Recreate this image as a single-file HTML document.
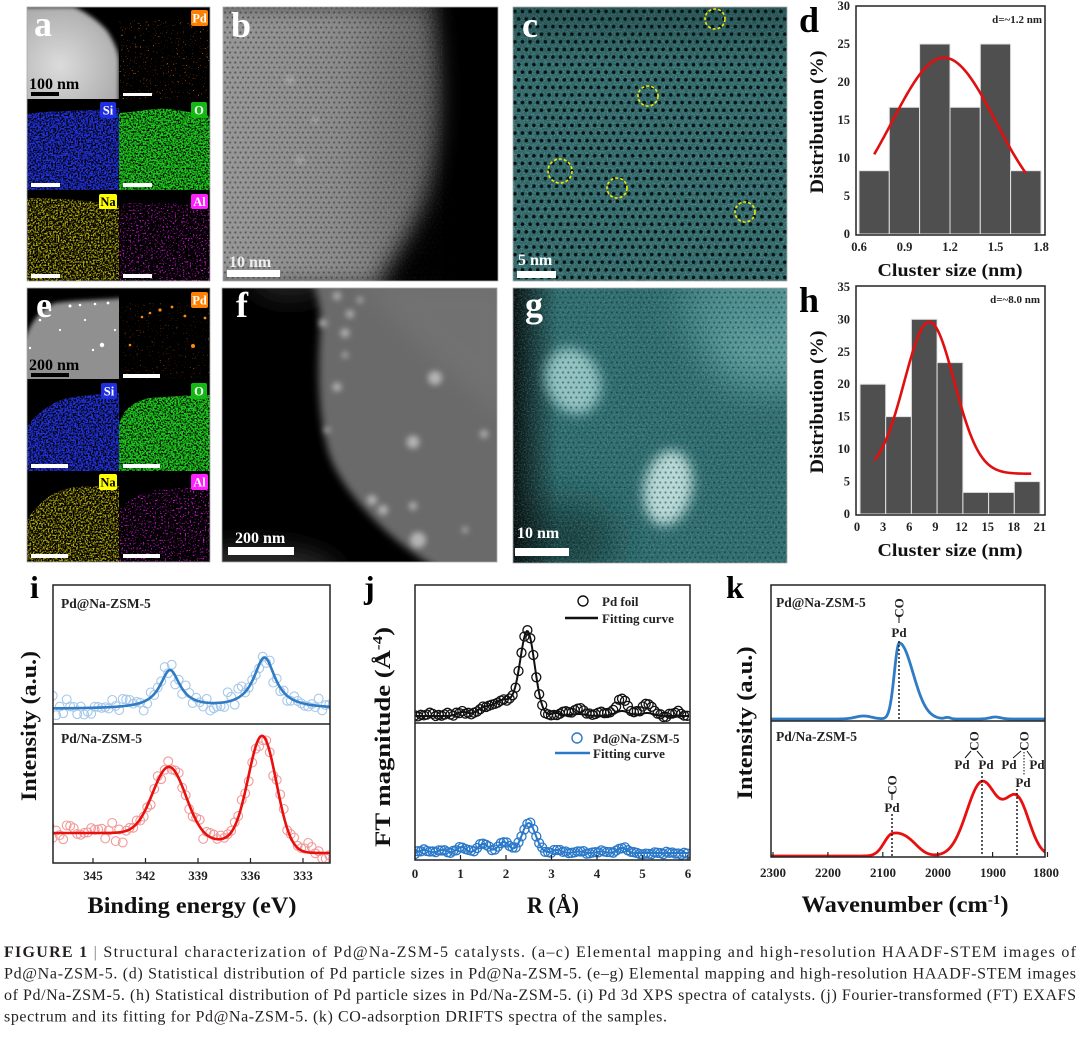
<!DOCTYPE html>
<html><head><meta charset="utf-8">
<style>
html,body{margin:0;padding:0;background:#fff;}
body{width:1080px;height:1039px;position:relative;overflow:hidden;}
svg{position:absolute;left:0;top:0;}
</style></head>
<body>
<svg id="fig" width="1080" height="1039" viewBox="0 0 1080 1039" xmlns="http://www.w3.org/2000/svg" font-family="'Liberation Serif', serif">
<defs>
  <filter id="nSi" x="0" y="0" width="1" height="1" color-interpolation-filters="sRGB"><feTurbulence type="fractalNoise" baseFrequency="0.6" numOctaves="2" seed="4"/><feColorMatrix type="matrix" values="0 0 0 0 0.14  0 0 0 0 0.2  0 0 0 0 0.88  4 0 0 0 -1.4"/><feComposite in2="SourceGraphic" operator="in"/></filter>
  <filter id="nO" x="0" y="0" width="1" height="1" color-interpolation-filters="sRGB"><feTurbulence type="fractalNoise" baseFrequency="0.6" numOctaves="2" seed="7"/><feColorMatrix type="matrix" values="0 0 0 0 0.12  0 0 0 0 0.8  0 0 0 0 0.12  4 0 0 0 -1.3"/><feComposite in2="SourceGraphic" operator="in"/></filter>
  <filter id="nNa" x="0" y="0" width="1" height="1" color-interpolation-filters="sRGB"><feTurbulence type="fractalNoise" baseFrequency="0.6" numOctaves="2" seed="9"/><feColorMatrix type="matrix" values="0 0 0 0 0.72  0 0 0 0 0.68  0 0 0 0 0.05  4.5 0 0 0 -2.0"/><feComposite in2="SourceGraphic" operator="in"/></filter>
  <filter id="nAl" x="0" y="0" width="1" height="1" color-interpolation-filters="sRGB"><feTurbulence type="fractalNoise" baseFrequency="0.6" numOctaves="2" seed="11"/><feColorMatrix type="matrix" values="0 0 0 0 0.85  0 0 0 0 0.1  0 0 0 0 0.85  6 0 0 0 -3.5"/><feComposite in2="SourceGraphic" operator="in"/></filter>
  <filter id="nPd" x="0" y="0" width="1" height="1" color-interpolation-filters="sRGB"><feTurbulence type="fractalNoise" baseFrequency="0.6" numOctaves="2" seed="13"/><feColorMatrix type="matrix" values="0 0 0 0 0.95  0 0 0 0 0.45  0 0 0 0 0.05  8 0 0 0 -5.5"/><feComposite in2="SourceGraphic" operator="in"/></filter>
  <filter id="nGrain" x="0" y="0" width="1" height="1" color-interpolation-filters="sRGB"><feTurbulence type="fractalNoise" baseFrequency="0.7" numOctaves="2" seed="5"/><feColorMatrix type="matrix" values="0 0 0 0 0.6  0 0 0 0 0.85  0 0 0 0 0.85  2 0 0 0 -0.85"/><feComposite in2="SourceGraphic" operator="in"/></filter>
  <filter id="nGray" x="0" y="0" width="1" height="1" color-interpolation-filters="sRGB"><feTurbulence type="fractalNoise" baseFrequency="0.7" numOctaves="2" seed="6"/><feColorMatrix type="matrix" values="0 0 0 0 0.8  0 0 0 0 0.8  0 0 0 0 0.8  2 0 0 0 -0.9"/><feComposite in2="SourceGraphic" operator="in"/></filter>
  <filter id="bl2"><feGaussianBlur stdDeviation="2"/></filter>
  <filter id="bl3"><feGaussianBlur stdDeviation="3"/></filter>
  <filter id="bl4"><feGaussianBlur stdDeviation="4"/></filter>
  <filter id="bl6" x="-30%" y="-30%" width="160%" height="160%"><feGaussianBlur stdDeviation="6"/></filter>
  <filter id="bl12" x="-30%" y="-30%" width="160%" height="160%"><feGaussianBlur stdDeviation="12"/></filter>
  <filter id="bl20" x="-50%" y="-50%" width="200%" height="200%"><feGaussianBlur stdDeviation="20"/></filter>
  <pattern id="latB" width="5.2" height="10" patternUnits="userSpaceOnUse"><circle cx="1.3" cy="2.5" r="1.15" fill="#1e1e1e" opacity="0.5"/><circle cx="3.9" cy="7.5" r="1.15" fill="#1e1e1e" opacity="0.5"/></pattern>
  <pattern id="latC" width="7.6" height="15.2" patternUnits="userSpaceOnUse"><circle cx="1.9" cy="3.8" r="1.8" fill="#051313"/><circle cx="5.7" cy="11.4" r="1.8" fill="#051313"/></pattern>
  <pattern id="latG" width="5.4" height="10" patternUnits="userSpaceOnUse"><circle cx="1.35" cy="2.5" r="1.1" fill="#06201f" opacity="0.45"/><circle cx="4.05" cy="7.5" r="1.1" fill="#06201f" opacity="0.45"/></pattern>
  <radialGradient id="gA" cx="0.4" cy="0.6" r="0.7"><stop offset="0" stop-color="#dcdcdc"/><stop offset="1" stop-color="#a8a8a8"/></radialGradient>
  <linearGradient id="gB" x1="0" y1="0" x2="1" y2="0"><stop offset="0" stop-color="#989898"/><stop offset="0.6" stop-color="#888"/><stop offset="1" stop-color="#5a5a5a"/></linearGradient>
  <linearGradient id="gGl" x1="0" y1="0" x2="1" y2="0"><stop offset="0" stop-color="#000" stop-opacity="0.9"/><stop offset="1" stop-color="#000" stop-opacity="0"/></linearGradient>
  <linearGradient id="gCt" x1="0" y1="0" x2="0" y2="1"><stop offset="0" stop-color="#0a2020" stop-opacity="0.3"/><stop offset="1" stop-color="#0a2020" stop-opacity="0"/></linearGradient>
  <clipPath id="cpAh"><rect x="27" y="7" width="92" height="92"/></clipPath>
  <clipPath id="cpEh"><rect x="27" y="288" width="92" height="91"/></clipPath>
  <clipPath id="cpB"><rect x="223" y="7" width="275" height="274"/></clipPath>
  <clipPath id="cpC"><rect x="513" y="7" width="274" height="274"/></clipPath>
  <clipPath id="cpF"><rect x="222" y="288" width="275" height="274"/></clipPath>
  <clipPath id="cpG"><rect x="513" y="288" width="274" height="275"/></clipPath>
  <clipPath id="cpD"><rect x="856" y="6" width="189" height="229"/></clipPath>
  <clipPath id="cpH"><rect x="856" y="286" width="189" height="229"/></clipPath>
  <clipPath id="cpI"><rect x="53" y="585" width="277" height="278"/></clipPath>
  <clipPath id="cpJ"><rect x="415" y="585" width="275" height="275"/></clipPath>
  <clipPath id="cpK"><rect x="771" y="585" width="274" height="272"/></clipPath>
</defs>

<!-- ============ PANEL a ============ -->
<rect x="27" y="7" width="183" height="274" fill="#000"/>
<g clip-path="url(#cpAh)">
  <path d="M20,7 L74,7 C86,12 100,22 108,32 C114,42 119,52 119,62 L119,105 L20,105Z" fill="url(#gA)" filter="url(#bl2)"/>
</g>
<rect x="119" y="20" width="91" height="79" fill="#fff" filter="url(#nPd)"/>
<path d="M27,114 C50,110 80,112 119,108 L119,190 L27,190Z" fill="#fff" filter="url(#nSi)"/>
<path d="M119,113 C140,112 160,106 175,110 C190,112 200,114 210,116 L210,190 L119,190Z" fill="#fff" filter="url(#nO)"/>
<path d="M27,198 C60,198 90,200 119,206 L119,281 L27,281Z" fill="#fff" filter="url(#nNa)"/>
<path d="M119,203 L210,203 L210,281 L119,281Z" fill="#fff" filter="url(#nAl)"/>
<text x="34" y="36" font-size="36" font-weight="bold" fill="#fff">a</text>
<text x="29" y="89" font-size="16" font-weight="bold" fill="#000">100 nm</text>
<rect x="31" y="92" width="28" height="4" fill="#000"/>
<rect x="123" y="93" width="29" height="3" fill="#fff"/>
<rect x="31" y="183" width="29" height="4" fill="#fff"/>
<rect x="123" y="183" width="29" height="4" fill="#fff"/>
<rect x="31" y="274" width="29" height="4" fill="#fff"/>
<rect x="123" y="274" width="29" height="4" fill="#fff"/>
<g font-size="12.5" font-weight="bold" text-anchor="middle">
  <rect x="191" y="10" width="17" height="16" rx="2" fill="#ff8000"/><text x="199.5" y="22.5" fill="#fff">Pd</text>
  <rect x="100" y="102" width="16" height="16" rx="2" fill="#1f2fe0"/><text x="108" y="114.5" fill="#fff">Si</text>
  <rect x="191" y="102" width="16" height="16" rx="2" fill="#14b814"/><text x="199" y="114.5" fill="#fff">O</text>
  <rect x="99" y="194" width="18" height="15" rx="2" fill="#ffff00"/><text x="108" y="206" fill="#000">Na</text>
  <rect x="191" y="194" width="17" height="15" rx="2" fill="#ff20ff"/><text x="199.5" y="206" fill="#fff">Al</text>
</g>
<rect x="27" y="7" width="183" height="274" fill="none" stroke="#aaa" stroke-width="0.8"/>

<!-- ============ PANEL b ============ -->
<rect x="223" y="7" width="275" height="274" fill="#000"/>
<g clip-path="url(#cpB)">
  <path d="M200,0 L435,0 C448,80 445,150 428,200 C412,240 388,270 378,290 L200,290Z" fill="url(#gB)" filter="url(#bl12)"/>
  <rect x="223" y="7" width="230" height="274" fill="url(#latB)"/>
  <rect x="223" y="7" width="220" height="274" fill="#fff" filter="url(#nGray)" opacity="0.25"/>
  <path d="M440,0 C452,80 450,150 433,205 C417,245 395,272 385,290 L510,290 L510,0Z" fill="#000" filter="url(#bl12)" opacity="0.85"/>
  <circle cx="290" cy="80" r="5" fill="#bbb" opacity="0.4" filter="url(#bl2)"/>
  <circle cx="315" cy="120" r="4" fill="#bbb" opacity="0.35" filter="url(#bl2)"/>
  <circle cx="300" cy="160" r="5" fill="#bbb" opacity="0.35" filter="url(#bl2)"/>
</g>
<text x="231" y="37" font-size="36" font-weight="bold" fill="#fff">b</text>
<text x="229" y="267" font-size="16" font-weight="bold" fill="#eee">10 nm</text>
<rect x="227" y="270" width="53" height="7" fill="#fff"/>
<rect x="223" y="7" width="275" height="274" fill="none" stroke="#aaa" stroke-width="0.8"/>

<!-- ============ PANEL c ============ -->
<g clip-path="url(#cpC)">
  <rect x="513" y="7" width="274" height="274" fill="#2f6365"/>
  <rect x="513" y="7" width="274" height="274" fill="#fff" filter="url(#nGrain)" opacity="0.5"/>
  <rect x="513" y="7" width="274" height="60" fill="url(#gCt)"/>
  <rect x="513" y="7" width="274" height="274" fill="url(#latC)"/>
</g>
<g fill="none" stroke="#f2e600" stroke-width="1.6" stroke-dasharray="3,2">
  <circle cx="715" cy="19" r="10"/>
  <circle cx="648" cy="96" r="10"/>
  <circle cx="560" cy="171" r="12"/>
  <circle cx="617" cy="188" r="10"/>
  <circle cx="745" cy="212" r="10"/>
</g>
<text x="522" y="37" font-size="36" font-weight="bold" fill="#fff">c</text>
<text x="518" y="265" font-size="16" font-weight="bold" fill="#fff">5 nm</text>
<rect x="517" y="271" width="39" height="7" fill="#fff"/>
<rect x="513" y="7" width="274" height="274" fill="none" stroke="#aaa" stroke-width="0.8"/>

<!-- ============ PANEL d ============ -->
<g fill="#4f4f4f" stroke="#e2e2e2" stroke-width="1">
  <rect x="859" y="170.7" width="30.3" height="63.3"/>
  <rect x="889.3" y="107.3" width="30.3" height="126.7"/>
  <rect x="919.6" y="44" width="30.4" height="190"/>
  <rect x="950" y="107.3" width="30.3" height="126.7"/>
  <rect x="980.3" y="44" width="30.3" height="190"/>
  <rect x="1010.6" y="170.7" width="30.4" height="63.3"/>
</g>
<g id="dcurve" clip-path="url(#cpD)"></g>
<rect x="856" y="6" width="189" height="229" fill="none" stroke="#222" stroke-width="1.5"/>
<g font-size="12.5" font-weight="bold" fill="#222" text-anchor="end">
  <text x="850" y="238">0</text><text x="850" y="200">5</text><text x="850" y="162">10</text><text x="850" y="124">15</text><text x="850" y="86">20</text><text x="850" y="48">25</text><text x="850" y="10">30</text>
</g>
<g font-size="12.5" font-weight="bold" fill="#222" text-anchor="middle">
  <text x="859" y="251">0.6</text><text x="904.5" y="251">0.9</text><text x="950" y="251">1.2</text><text x="995.5" y="251">1.5</text><text x="1041" y="251">1.8</text>
</g>
<text x="1042" y="23" font-size="11" font-weight="bold" fill="#222" text-anchor="end">d=~1.2 nm</text>
<text x="799" y="32" font-size="36" font-weight="bold" fill="#000">d</text>
<text transform="translate(823,122) rotate(-90)" font-size="19" font-weight="bold" fill="#111" text-anchor="middle" textLength="143" lengthAdjust="spacingAndGlyphs">Distribution (%)</text>
<text x="950" y="276" font-size="18" font-weight="bold" fill="#111" text-anchor="middle" textLength="145" lengthAdjust="spacingAndGlyphs">Cluster size (nm)</text>

<!-- ============ PANEL e ============ -->
<rect x="27" y="288" width="183" height="274" fill="#000"/>
<g clip-path="url(#cpEh)">
  <path d="M22,345 C30,325 38,310 55,303 C75,300 100,300 125,298 L125,385 L22,385Z" fill="#909090" filter="url(#bl2)"/>
  <g fill="#fff">
    <circle cx="70" cy="306" r="1.5"/><circle cx="80" cy="305" r="1.3"/><circle cx="95" cy="304" r="1.3"/><circle cx="108" cy="303" r="1.4"/>
    <circle cx="50" cy="310" r="1.3"/><circle cx="40" cy="320" r="1.3"/><circle cx="102" cy="345" r="2.2"/><circle cx="93" cy="350" r="1.2"/>
    <circle cx="60" cy="330" r="1.1"/><circle cx="85" cy="320" r="1.1"/><circle cx="30" cy="348" r="1.2"/><circle cx="115" cy="330" r="1.1"/>
  </g>
</g>
<path d="M119,303 L210,303 L210,379 L119,379Z" fill="#fff" filter="url(#nPd)" opacity="0.6"/>
<g fill="#ff8a10">
  <circle cx="160" cy="310" r="1.6"/><circle cx="172" cy="307" r="1.4"/><circle cx="150" cy="313" r="1.3"/><circle cx="185" cy="316" r="1.4"/><circle cx="193" cy="346" r="2"/><circle cx="205" cy="318" r="1.4"/><circle cx="130" cy="345" r="1.3"/><circle cx="142" cy="317" r="1.3"/>
</g>
<path d="M27,427 C35,415 45,408 60,400 C80,395 100,394 119,393 L119,471 L27,471Z" fill="#fff" filter="url(#nSi)"/>
<path d="M119,425 C122,412 130,402 150,398 C175,396 195,395 210,395 L210,471 L119,471Z" fill="#fff" filter="url(#nO)"/>
<path d="M27,520 C40,500 55,490 75,487 C95,486 110,486 119,486 L119,562 L27,562Z" fill="#fff" filter="url(#nNa)"/>
<path d="M119,510 C130,498 145,490 165,489 C185,488 200,487 210,487 L210,562 L119,562Z" fill="#fff" filter="url(#nAl)"/>
<text x="36" y="317" font-size="36" font-weight="bold" fill="#fff">e</text>
<text x="29" y="370" font-size="16" font-weight="bold" fill="#000">200 nm</text>
<rect x="31" y="373" width="38" height="4" fill="#000"/>
<rect x="123" y="374" width="37" height="4" fill="#fff"/>
<rect x="31" y="464" width="37" height="4" fill="#fff"/>
<rect x="123" y="464" width="37" height="4" fill="#fff"/>
<rect x="31" y="554" width="37" height="4" fill="#fff"/>
<rect x="123" y="554" width="37" height="4" fill="#fff"/>
<g font-size="12.5" font-weight="bold" text-anchor="middle">
  <rect x="191" y="292" width="17" height="16" rx="2" fill="#ff8000"/><text x="199.5" y="304.5" fill="#fff">Pd</text>
  <rect x="101" y="383" width="16" height="16" rx="2" fill="#1f2fe0"/><text x="109" y="395.5" fill="#fff">Si</text>
  <rect x="191" y="383" width="16" height="16" rx="2" fill="#14b814"/><text x="199" y="395.5" fill="#fff">O</text>
  <rect x="99" y="474" width="18" height="16" rx="2" fill="#ffff00"/><text x="108" y="486.5" fill="#000">Na</text>
  <rect x="191" y="474" width="17" height="16" rx="2" fill="#ff20ff"/><text x="199.5" y="486.5" fill="#fff">Al</text>
</g>
<rect x="27" y="288" width="183" height="274" fill="none" stroke="#aaa" stroke-width="0.8"/>

<!-- ============ PANEL f ============ -->
<rect x="222" y="288" width="275" height="274" fill="#000"/>
<g clip-path="url(#cpF)">
  <ellipse cx="250" cy="575" rx="90" ry="30" fill="#2a2a2a" filter="url(#bl12)"/>
  <ellipse cx="290" cy="280" rx="40" ry="20" fill="#222" filter="url(#bl12)"/>
  <path d="M312,280 L510,280 L510,570 L440,570 C400,548 352,505 332,462 C316,422 318,362 320,332 C322,310 316,292 312,280Z" fill="#6a6a6a" filter="url(#bl4)"/>
  <path d="M360,280 L510,280 L510,420 C450,380 400,330 360,280Z" fill="#777" filter="url(#bl12)" opacity="0.6"/>
  <g fill="#b4b4b4" filter="url(#bl3)">
    <circle cx="435" cy="378" r="7"/><circle cx="413" cy="442" r="6.5"/><circle cx="337" cy="387" r="4.5"/><circle cx="484" cy="434" r="4"/>
    <circle cx="372" cy="500" r="5"/><circle cx="383" cy="510" r="5"/><circle cx="413" cy="506" r="4"/><circle cx="418" cy="540" r="8"/>
    <circle cx="323" cy="323" r="4"/><circle cx="345" cy="333" r="4.5"/><circle cx="337" cy="296" r="4"/><circle cx="345" cy="355" r="3"/>
    <circle cx="350" cy="314" r="4"/><circle cx="327" cy="430" r="3"/><circle cx="465" cy="530" r="3"/><circle cx="360" cy="300" r="3"/>
  </g>
</g>
<text x="236" y="317" font-size="36" font-weight="bold" fill="#fff">f</text>
<text x="235" y="543" font-size="16" font-weight="bold" fill="#fff">200 nm</text>
<rect x="228" y="547" width="66" height="8" fill="#fff"/>
<rect x="222" y="288" width="275" height="274" fill="none" stroke="#aaa" stroke-width="0.8"/>

<!-- ============ PANEL g ============ -->
<g clip-path="url(#cpG)">
  <rect x="513" y="288" width="274" height="275" fill="#2e6a6c"/>
  <ellipse cx="770" cy="330" rx="70" ry="60" fill="#5a9898" filter="url(#bl20)"/>
  <ellipse cx="740" cy="300" rx="60" ry="25" fill="#4c8a8a" filter="url(#bl20)"/>
  <ellipse cx="560" cy="540" rx="60" ry="40" fill="#123c3e" filter="url(#bl20)"/>
  <rect x="513" y="288" width="45" height="275" fill="url(#gGl)"/>
  <rect x="513" y="288" width="274" height="275" fill="#fff" filter="url(#nGrain)" opacity="0.35"/>
  <ellipse cx="573" cy="381" rx="27" ry="34" transform="rotate(-20 573 381)" fill="#92c2c2" filter="url(#bl6)"/>
  <ellipse cx="668" cy="488" rx="24" ry="38" transform="rotate(10 668 488)" fill="#b6d8d6" filter="url(#bl6)"/>
  <rect x="513" y="288" width="274" height="275" fill="url(#latG)"/>
</g>
<text x="525" y="317" font-size="36" font-weight="bold" fill="#fff">g</text>
<text x="517" y="538" font-size="16" font-weight="bold" fill="#fff">10 nm</text>
<rect x="515" y="548" width="54" height="8" fill="#fff"/>
<rect x="513" y="288" width="274" height="275" fill="none" stroke="#aaa" stroke-width="0.8"/>

<!-- ============ PANEL h ============ -->
<g fill="#4f4f4f" stroke="#e2e2e2" stroke-width="1">
  <rect x="860" y="384.2" width="25.7" height="129.8"/>
  <rect x="885.7" y="416.6" width="25.7" height="97.4"/>
  <rect x="911.4" y="319.3" width="25.7" height="194.7"/>
  <rect x="937.1" y="362.6" width="25.8" height="151.4"/>
  <rect x="962.9" y="492.4" width="25.7" height="21.6"/>
  <rect x="988.6" y="492.4" width="25.7" height="21.6"/>
  <rect x="1014.3" y="481.6" width="25.7" height="32.4"/>
</g>
<g id="hcurve" clip-path="url(#cpH)"></g>
<rect x="856" y="286" width="189" height="229" fill="none" stroke="#222" stroke-width="1.5"/>
<g font-size="12.5" font-weight="bold" fill="#222" text-anchor="end">
  <text x="850" y="518">0</text><text x="850" y="485.5">5</text><text x="850" y="453">10</text><text x="850" y="420.7">15</text><text x="850" y="388">20</text><text x="850" y="355.8">25</text><text x="850" y="323.3">30</text><text x="850" y="291">35</text>
</g>
<g font-size="12.5" font-weight="bold" fill="#222" text-anchor="middle">
  <text x="857" y="531">0</text><text x="883.1" y="531">3</text><text x="909.3" y="531">6</text><text x="935.4" y="531">9</text><text x="961.5" y="531">12</text><text x="987.7" y="531">15</text><text x="1013.8" y="531">18</text><text x="1039.9" y="531">21</text>
</g>
<text x="1040" y="303" font-size="11" font-weight="bold" fill="#222" text-anchor="end">d=~8.0 nm</text>
<text x="799" y="312" font-size="36" font-weight="bold" fill="#000">h</text>
<text transform="translate(823,402) rotate(-90)" font-size="19" font-weight="bold" fill="#111" text-anchor="middle" textLength="143" lengthAdjust="spacingAndGlyphs">Distribution (%)</text>
<text x="950" y="556" font-size="18" font-weight="bold" fill="#111" text-anchor="middle" textLength="145" lengthAdjust="spacingAndGlyphs">Cluster size (nm)</text>

<!-- ============ PANEL i ============ -->
<g id="icurve"></g>
<rect x="53" y="585" width="277" height="278" fill="none" stroke="#222" stroke-width="1.5"/>
<line x1="53" y1="724" x2="330" y2="724" stroke="#222" stroke-width="1.5"/>
<text x="30" y="598" font-size="32" font-weight="bold" fill="#000">i</text>
<text x="61" y="608" font-size="13.5" font-weight="bold" fill="#222">Pd@Na-ZSM-5</text>
<text x="61" y="743" font-size="13.5" font-weight="bold" fill="#222">Pd/Na-ZSM-5</text>
<g font-size="13" font-weight="bold" fill="#222" text-anchor="middle">
  <text x="93" y="880">345</text><text x="145.5" y="880">342</text><text x="198" y="880">339</text><text x="250.5" y="880">336</text><text x="303" y="880">333</text>
</g>
<text x="192" y="913" font-size="23" font-weight="bold" fill="#111" text-anchor="middle" textLength="209" lengthAdjust="spacingAndGlyphs">Binding energy (eV)</text>
<text transform="translate(36,726) rotate(-90)" font-size="22" font-weight="bold" fill="#111" text-anchor="middle" textLength="150" lengthAdjust="spacingAndGlyphs">Intensity (a.u.)</text>

<!-- ============ PANEL j ============ -->
<g id="jcurve"></g>
<rect x="415" y="585" width="275" height="275" fill="none" stroke="#222" stroke-width="1.5"/>
<line x1="415" y1="723" x2="690" y2="723" stroke="#222" stroke-width="1.5"/>
<text x="364" y="598" font-size="32" font-weight="bold" fill="#000">j</text>
<circle cx="583" cy="601" r="5" fill="none" stroke="#111" stroke-width="1.4"/>
<text x="602" y="606" font-size="13" font-weight="bold" fill="#222">Pd foil</text>
<line x1="565" y1="618" x2="598" y2="618" stroke="#111" stroke-width="2.5"/>
<text x="602" y="623" font-size="13" font-weight="bold" fill="#222">Fitting curve</text>
<circle cx="577" cy="738" r="5" fill="none" stroke="#2a78c8" stroke-width="1.4"/>
<text x="593" y="743" font-size="13" font-weight="bold" fill="#222">Pd@Na-ZSM-5</text>
<line x1="555" y1="753" x2="590" y2="753" stroke="#2a78c8" stroke-width="2.5"/>
<text x="593" y="758" font-size="13" font-weight="bold" fill="#222">Fitting curve</text>
<g font-size="13" font-weight="bold" fill="#222" text-anchor="middle">
  <text x="415" y="878">0</text><text x="460.5" y="878">1</text><text x="506" y="878">2</text><text x="551.5" y="878">3</text><text x="597" y="878">4</text><text x="642.5" y="878">5</text><text x="688" y="878">6</text>
</g>
<text x="553" y="913" font-size="23" font-weight="bold" fill="#111" text-anchor="middle" textLength="52" lengthAdjust="spacingAndGlyphs">R (Å)</text>
<text transform="translate(390,737) rotate(-90)" font-size="22" font-weight="bold" fill="#111" text-anchor="middle" textLength="220" lengthAdjust="spacingAndGlyphs">FT magnitude (Å<tspan font-size="14" dy="-8">-4</tspan><tspan dy="8">)</tspan></text>

<!-- ============ PANEL k ============ -->
<g id="kcurve"></g>
<rect x="771" y="585" width="274" height="272" fill="none" stroke="#222" stroke-width="1.5"/>
<line x1="771" y1="721" x2="1045" y2="721" stroke="#222" stroke-width="1.5"/>
<text x="726" y="598" font-size="32" font-weight="bold" fill="#000">k</text>
<text x="776" y="607" font-size="13.5" font-weight="bold" fill="#222">Pd@Na-ZSM-5</text>
<text x="776" y="741" font-size="13.5" font-weight="bold" fill="#222">Pd/Na-ZSM-5</text>
<g stroke="#111" stroke-width="1.4" stroke-dasharray="2,2">
  <line x1="899" y1="641" x2="899" y2="719"/>
  <line x1="892" y1="814" x2="892" y2="856"/>
  <line x1="982" y1="772" x2="982" y2="856"/>
  <line x1="1017" y1="789" x2="1017" y2="856"/>
  <line x1="1024" y1="752" x2="1024" y2="776" stroke-dasharray="1.5,1.5" stroke-width="1"/>
</g>
<g stroke="#111" stroke-width="1">
  <line x1="899" y1="617" x2="899" y2="623"/>
  <line x1="892" y1="794" x2="892" y2="800"/>
  <line x1="971" y1="751" x2="965" y2="758"/>
  <line x1="977" y1="751" x2="983" y2="758"/>
  <line x1="1021" y1="751" x2="1013" y2="758"/>
  <line x1="1027" y1="751" x2="1032" y2="758"/>
</g>
<g font-size="13" font-weight="bold" fill="#222" text-anchor="middle">
  <text transform="translate(903.5,608) rotate(-90)">CO</text>
  <text x="899" y="637">Pd</text>
  <text transform="translate(896.5,785) rotate(-90)">CO</text>
  <text x="892" y="812">Pd</text>
  <text transform="translate(978.5,741) rotate(-90)">CO</text>
  <text x="962" y="769">Pd</text><text x="986" y="769">Pd</text>
  <text transform="translate(1028.5,741) rotate(-90)">CO</text>
  <text x="1009" y="769">Pd</text><text x="1037" y="769">Pd</text>
  <text x="1023" y="787">Pd</text>
</g>
<g font-size="13" font-weight="bold" fill="#222" text-anchor="middle">
  <text x="773" y="877">2300</text><text x="828" y="877">2200</text><text x="883" y="877">2100</text><text x="938" y="877">2000</text><text x="993" y="877">1900</text><text x="1046" y="877">1800</text>
</g>
<text x="905" y="912" font-size="23" font-weight="bold" fill="#111" text-anchor="middle" textLength="207" lengthAdjust="spacingAndGlyphs">Wavenumber (cm<tspan font-size="14" dy="-8">-1</tspan><tspan dy="8">)</tspan></text>
<text transform="translate(752,723) rotate(-90)" font-size="22" font-weight="bold" fill="#111" text-anchor="middle" textLength="153" lengthAdjust="spacingAndGlyphs">Intensity (a.u.)</text>

<!-- ============ CAPTION ============ -->
<g font-size="16" fill="#231f20">
  <text x="4" y="957" textLength="1072" lengthAdjust="spacing"><tspan font-weight="bold">FIGURE 1</tspan>  <tspan fill="#777">|</tspan>  Structural characterization of Pd@Na-ZSM-5 catalysts. (a–c) Elemental mapping and high-resolution HAADF-STEM images of</text>
  <text x="4" y="978.5" textLength="1072" lengthAdjust="spacing">Pd@Na-ZSM-5. (d) Statistical distribution of Pd particle sizes in Pd@Na-ZSM-5. (e–g) Elemental mapping and high-resolution HAADF-STEM images</text>
  <text x="4" y="1000" textLength="1072" lengthAdjust="spacing">of Pd/Na-ZSM-5. (h) Statistical distribution of Pd particle sizes in Pd/Na-ZSM-5. (i) Pd 3d XPS spectra of catalysts. (j) Fourier-transformed (FT) EXAFS</text>
  <text x="4" y="1021.5" textLength="663" lengthAdjust="spacing">spectrum and its fitting for Pd@Na-ZSM-5. (k) CO-adsorption DRIFTS spectra of the samples.</text>
</g>
</svg>

<script>
(function(){
var NS='http://www.w3.org/2000/svg';
var s=12345;function R(){s=(s*16807)%2147483647;return s/2147483647;}
function N(){return (R()+R()+R()-1.5);}
function el(tag,at,parent){var e=document.createElementNS(NS,tag);for(var k in at)e.setAttribute(k,at[k]);parent.appendChild(e);return e;}
function curve(f,a,b,n){var d='';for(var i=0;i<=n;i++){var t=a+(b-a)*i/n;var p=f(t);d+=(i?'L':'M')+p[0].toFixed(2)+' '+p[1].toFixed(2);}return d;}
function G(x,c,h,sg){return h*Math.exp(-0.5*Math.pow((x-c)/sg,2));}
function AG(x,c,h,sl,sr){return x>c?G(x,c,h,sl):G(x,c,h,sr);}
function L(x,c,h,g){return h/(1+Math.pow((x-c)/g,2));}

/* d */
var gd=document.getElementById('dcurve');
el('path',{d:curve(function(v){return [859+(v-0.6)*151.7,234-(2+G(v,1.16,21.2,0.34))*7.6];},0.7,1.7,80),fill:'none',stroke:'#e01010','stroke-width':2.6},gd);
/* h */
var gh=document.getElementById('hcurve');
el('path',{d:curve(function(v){return [857+v*8.71,514-(6.2+G(v,8.3,23.4,2.87))*6.49];},2,20,90),fill:'none',stroke:'#e01010','stroke-width':2.6},gh);

/* i */
var gi=el('g',{'clip-path':'url(#cpI)'},document.getElementById('icurve'));
function Xi(E){return 93+(345-E)*17.5;}
function yi1(E){return 709-L(E,340.6,38,0.7)-L(E,335.2,51,0.75);}
function Sg(x){return 1/(1+Math.exp(-x/0.4));}
function yi2(E){return 853-12*Sg(E-335.3)-8*Sg(E-340.6)-G(E,340.6,70,0.95)-G(E,335.3,111,0.8);}
var E;
for(E=347.5;E>331.2;E-=0.2){el('circle',{cx:Xi(E).toFixed(1),cy:(yi1(E)+N()*9).toFixed(1),r:4.4,fill:'none',stroke:'#a6c8ea','stroke-width':1.1},gi);}
for(E=347.5;E>331.2;E-=0.2){el('circle',{cx:Xi(E).toFixed(1),cy:(yi2(E)+N()*9).toFixed(1),r:4.4,fill:'none',stroke:'#f29a9a','stroke-width':1.1},gi);}
el('path',{d:curve(function(E){return [Xi(E),yi1(E)];},347.5,331.2,300),fill:'none',stroke:'#2f7bc4','stroke-width':2.6},gi);
el('path',{d:curve(function(E){return [Xi(E),yi2(E)];},347.5,331.2,300),fill:'none',stroke:'#e8100f','stroke-width':2.6},gi);
var tk=document.getElementById('icurve');
[345,342,339,336,333].forEach(function(v){el('line',{x1:Xi(v),y1:863,x2:Xi(v),y2:858,stroke:'#222','stroke-width':1.2},tk);});

/* j */
var gj=el('g',{'clip-path':'url(#cpJ)'},document.getElementById('jcurve'));
function Xj(r){return 415+r*45.5;}
function fj1(r){return G(r,2.47,84,0.16)+G(r,1.95,16,0.22)+G(r,1.5,7,0.15)+G(r,1.05,4,0.12);}
function yj1l(r){return 716-fj1(r)-G(r,3.1,3,0.1)-G(r,4.55,5,0.15)-G(r,5.1,3,0.15)-G(r,3.6,2,0.15);}
function yj1d(r){return 716-fj1(r)-G(r,3.25,4,0.1)-G(r,3.6,7,0.12)-G(r,4.1,4,0.1)-G(r,4.55,17,0.13)-G(r,5.1,12,0.13)-G(r,5.75,4,0.1)-G(r,0.3,2,0.1)-G(r,0.7,2,0.1);}
function yj2(r){return 853-G(r,2.5,30,0.15)-G(r,1.95,11,0.12)-G(r,1.5,9,0.12)-G(r,1.02,6,0.1)-G(r,0.6,3,0.1)-G(r,0.2,3,0.1)-G(r,3.12,3,0.1)-G(r,4.55,5,0.1)-G(r,3.6,1.5,0.1)-G(r,4.1,1.5,0.1);}
var r;
for(r=0;r<=6.01;r+=0.065){el('circle',{cx:Xj(r).toFixed(1),cy:(yj1d(r)+N()*1.5).toFixed(1),r:4.5,fill:'none',stroke:'#111','stroke-width':1.3},gj);}
for(r=0;r<=6.01;r+=0.065){el('circle',{cx:Xj(r).toFixed(1),cy:(yj2(r)+N()*1.5).toFixed(1),r:4.5,fill:'none',stroke:'#2a78c8','stroke-width':1.3},gj);}
el('path',{d:curve(function(r){return [Xj(r),yj1l(r)];},0,6,300),fill:'none',stroke:'#111','stroke-width':2},gj);
el('path',{d:curve(function(r){return [Xj(r),yj2(r)];},0,6,300),fill:'none',stroke:'#2a78c8','stroke-width':2},gj);
tk=document.getElementById('jcurve');
[0,1,2,3,4,5,6].forEach(function(v){el('line',{x1:Xj(v),y1:860,x2:Xj(v),y2:855,stroke:'#222','stroke-width':1.2},tk);});

/* k */
var gk=el('g',{'clip-path':'url(#cpK)'},document.getElementById('kcurve'));
function Xk(w){return 773+(2300-w)*0.549;}
function yk1(w){return 719-AG(w,2070,76,9,25)-G(w,2135,3,15)-G(w,1895,2,10)-G(w,1982,1.5,5);}
function yk2(w){return 856-AG(w,2083,21,15,25)-G(w,2050,8,18)-G(w,1919,74,28)-G(w,1855,55,22);}
el('path',{d:curve(function(w){return [Xk(w),yk1(w)];},2310,1795,400),fill:'none',stroke:'#2f7bc4','stroke-width':2.8},gk);
el('path',{d:curve(function(w){return [Xk(w),yk2(w)];},2310,1795,400),fill:'none',stroke:'#e8100f','stroke-width':2.8},gk);
tk=document.getElementById('kcurve');
[2300,2200,2100,2000,1900,1800].forEach(function(v){el('line',{x1:Xk(v),y1:857,x2:Xk(v),y2:852,stroke:'#222','stroke-width':1.2},tk);});
})();
</script>
</body></html>
